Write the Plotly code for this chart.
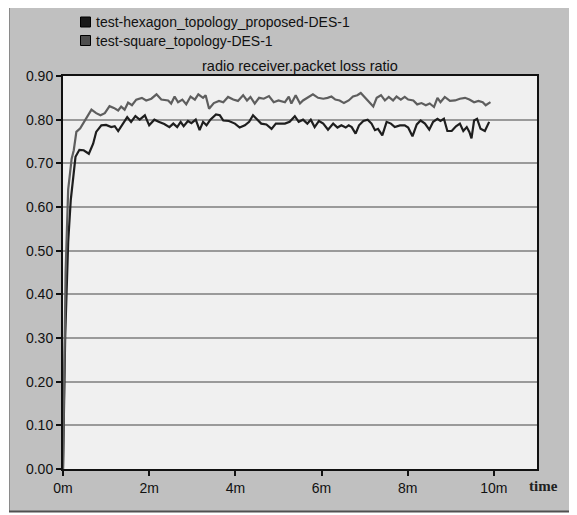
import plotly.graph_objects as go

# ---- data (time in minutes, value = packet loss ratio) ----
series_names = ["test-hexagon_topology_proposed-DES-1", "test-square_topology-DES-1"]
series_colors = ["#1e1e1e", "#5e5e5e"]
legend_colors = ["#1a1a1a", "#4e4e4e"]

hex_t = [0, 0.05, 0.12, 0.18, 0.29, 0.38, 0.48, 0.60, 0.70, 0.77, 0.89, 1.00, 1.12, 1.20, 1.28,
         1.39, 1.49, 1.58, 1.68, 1.78, 1.90, 2.00, 2.12, 2.22, 2.35, 2.47, 2.56, 2.65, 2.73, 2.80,
         2.90, 2.98, 3.08, 3.17, 3.25, 3.33, 3.42, 3.55, 3.64, 3.72, 3.85, 3.99, 4.10, 4.22, 4.32,
         4.41, 4.50, 4.60, 4.72, 4.84, 4.94, 5.07, 5.15, 5.26, 5.38, 5.47, 5.57, 5.67, 5.75, 5.84,
         5.94, 6.04, 6.15, 6.27, 6.37, 6.46, 6.56, 6.63, 6.70, 6.79, 6.87, 6.97, 7.07, 7.16, 7.24,
         7.31, 7.41, 7.51, 7.61, 7.70, 7.82, 7.93, 8.01, 8.11, 8.21, 8.30, 8.40, 8.50, 8.59, 8.69,
         8.76, 8.84, 8.92, 9.02, 9.12, 9.21, 9.29, 9.37, 9.43, 9.48, 9.54, 9.61, 9.69, 9.79, 9.89]
hex_v = [0.0, 0.30, 0.52, 0.616, 0.715, 0.731, 0.730, 0.722, 0.745, 0.772, 0.787, 0.788, 0.783, 0.785, 0.774,
         0.791, 0.806, 0.795, 0.808, 0.800, 0.810, 0.787, 0.800, 0.795, 0.790, 0.783, 0.791, 0.783, 0.795, 0.785,
         0.797, 0.792, 0.800, 0.776, 0.795, 0.787, 0.800, 0.812, 0.810, 0.798, 0.797, 0.791, 0.782, 0.787, 0.795,
         0.810, 0.800, 0.791, 0.789, 0.779, 0.791, 0.791, 0.791, 0.795, 0.808, 0.795, 0.800, 0.791, 0.800, 0.783,
         0.797, 0.791, 0.777, 0.791, 0.782, 0.787, 0.782, 0.787, 0.783, 0.768, 0.787, 0.797, 0.800, 0.791, 0.776,
         0.779, 0.764, 0.795, 0.791, 0.783, 0.787, 0.787, 0.782, 0.762, 0.789, 0.798, 0.791, 0.777, 0.795, 0.802,
         0.797, 0.802, 0.774, 0.774, 0.785, 0.791, 0.774, 0.783, 0.772, 0.757, 0.798, 0.802, 0.779, 0.774, 0.795]

sq_t = [0, 0.06, 0.12, 0.20, 0.25, 0.31, 0.40, 0.54, 0.66, 0.77, 0.87, 0.97, 1.08, 1.18, 1.28,
        1.35, 1.43, 1.51, 1.60, 1.70, 1.83, 1.93, 2.05, 2.17, 2.28, 2.44, 2.51, 2.59, 2.67, 2.77,
        2.86, 2.96, 3.06, 3.14, 3.25, 3.31, 3.39, 3.50, 3.62, 3.72, 3.83, 3.95, 4.06, 4.18, 4.27,
        4.35, 4.45, 4.55, 4.66, 4.78, 4.89, 5.00, 5.15, 5.24, 5.30, 5.40, 5.50, 5.57, 5.69, 5.80,
        5.92, 6.04, 6.14, 6.23, 6.32, 6.42, 6.52, 6.63, 6.73, 6.83, 6.91, 7.02, 7.12, 7.20, 7.28,
        7.38, 7.47, 7.56, 7.66, 7.74, 7.84, 7.93, 8.01, 8.13, 8.22, 8.32, 8.42, 8.51, 8.61, 8.69,
        8.76, 8.86, 8.98, 9.10, 9.21, 9.33, 9.43, 9.54, 9.64, 9.74, 9.81, 9.92]
sq_v = [0.0, 0.45, 0.64, 0.710, 0.730, 0.772, 0.780, 0.802, 0.823, 0.815, 0.810, 0.815, 0.831, 0.827, 0.821,
        0.830, 0.823, 0.839, 0.833, 0.846, 0.850, 0.844, 0.848, 0.858, 0.846, 0.844, 0.837, 0.853, 0.840, 0.846,
        0.835, 0.853, 0.846, 0.858, 0.850, 0.856, 0.825, 0.838, 0.843, 0.840, 0.852, 0.846, 0.843, 0.856, 0.844,
        0.852, 0.837, 0.850, 0.848, 0.854, 0.840, 0.844, 0.840, 0.853, 0.837, 0.856, 0.837, 0.844, 0.852, 0.858,
        0.850, 0.848, 0.850, 0.853, 0.846, 0.844, 0.838, 0.844, 0.853, 0.856, 0.861, 0.850, 0.840, 0.830, 0.850,
        0.856, 0.844, 0.852, 0.844, 0.853, 0.846, 0.852, 0.846, 0.844, 0.835, 0.838, 0.833, 0.837, 0.829, 0.850,
        0.840, 0.852, 0.843, 0.844, 0.848, 0.850, 0.846, 0.840, 0.843, 0.840, 0.833, 0.840]

x_tick_vals = [0, 2, 4, 6, 8, 10]
x_tick_text = ["0m", "2m", "4m", "6m", "8m", "10m"]
y_tick_vals = [0.0, 0.1, 0.2, 0.3, 0.4, 0.5, 0.6, 0.7, 0.8, 0.9]
chart_title = "radio receiver.packet loss ratio"
x_label = "time"

# ---- figure ----
# The page adds an 8px body margin, so all target pixel positions are shifted by OFF.
OFF = 8
W, H = 577 - OFF, 515 - OFF
PL, PR, PT, PB = 63, 537, 76, 469          # plot area in window pixels
ML, MR, MT, MB = PL - OFF, W - (PR - OFF), PT - OFF, H - (PB - OFF)
PW, PH = W - ML - MR, H - MT - MB


def px_x(p):
    return (p - OFF - ML) / PW


def px_y(p):
    return (H - MB - (p - OFF)) / PH


FONT = "Liberation Sans, Arial, sans-serif"

fig = go.Figure()
for t, v, name, col in [(hex_t, hex_v, series_names[0], series_colors[0]),
                        (sq_t, sq_v, series_names[1], series_colors[1])]:
    fig.add_trace(go.Scatter(x=t, y=v, mode="lines", name=name,
                             line=dict(color=col, width=2.2), showlegend=False))

shapes = [
    # grey panel
    dict(type="rect", xref="paper", yref="paper", layer="below",
         x0=px_x(9), x1=px_x(572), y0=px_y(512), y1=px_y(0),
         fillcolor="#c0c0c0", line=dict(width=0)),
    # panel edges
    dict(type="line", xref="paper", yref="paper", layer="below",
         x0=px_x(9.5), x1=px_x(9.5), y0=px_y(512), y1=px_y(0), line=dict(color="#8a8a8a", width=1)),
    dict(type="line", xref="paper", yref="paper", layer="below",
         x0=px_x(571.5), x1=px_x(571.5), y0=px_y(512), y1=px_y(0), line=dict(color="#505050", width=2)),
    dict(type="line", xref="paper", yref="paper", layer="below",
         x0=px_x(9), x1=px_x(572), y0=px_y(511.5), y1=px_y(511.5), line=dict(color="#505050", width=2)),
    # plot area background
    dict(type="rect", xref="paper", yref="paper", layer="below",
         x0=0, x1=1, y0=0, y1=1, fillcolor="#f0f0f0", line=dict(width=0)),
]

annotations = [
    dict(text=chart_title, xref="paper", yref="paper", x=0.5, y=px_y(66),
         showarrow=False, xanchor="center", yanchor="middle",
         font=dict(family=FONT, size=14.5, color="#111")),
    dict(text=x_label, xref="paper", yref="paper", x=px_x(527), y=px_y(486),
         showarrow=False, xanchor="left", yanchor="middle",
         font=dict(family="Liberation Serif, Times New Roman, serif", size=15,
                   weight="bold", color="#222")),
]

# manual legend (square swatches)
leg_rows = [22, 40.5]
for name, col, yc in zip(series_names, legend_colors, leg_rows):
    shapes.append(dict(type="rect", xref="paper", yref="paper", layer="above",
                       x0=px_x(80.5), x1=px_x(90.5), y0=px_y(yc + 5), y1=px_y(yc - 5),
                       fillcolor=col, line=dict(color="#000", width=1)))
    annotations.append(dict(text=name, xref="paper", yref="paper", x=px_x(94), y=px_y(yc),
                            showarrow=False, xanchor="left", yanchor="middle",
                            font=dict(family=FONT, size=14, color="#111")))

fig.update_layout(
    width=W, height=H,
    margin=dict(l=ML, r=MR, t=MT, b=MB, pad=0),
    paper_bgcolor="#ffffff",
    plot_bgcolor="rgba(0,0,0,0)",
    shapes=shapes,
    annotations=annotations,
    showlegend=False,
    xaxis=dict(range=[0, 11], tickvals=x_tick_vals, ticktext=x_tick_text,
               showgrid=False, zeroline=False, showline=True, linecolor="#111", linewidth=2,
               mirror=True, ticks="outside", ticklen=5, tickcolor="#111", tickwidth=1.5,
               tickfont=dict(family=FONT, size=14, color="#111")),
    yaxis=dict(range=[0, 0.9], tickvals=y_tick_vals, tickformat=".2f",
               showgrid=True, gridcolor="#9a9a9a", gridwidth=1.5, zeroline=False,
               showline=True, linecolor="#111", linewidth=2, mirror=True,
               ticks="outside", ticklen=5, tickcolor="#111", tickwidth=1.5,
               tickfont=dict(family=FONT, size=14, color="#111")),
)

fig.write_html("out.html")
